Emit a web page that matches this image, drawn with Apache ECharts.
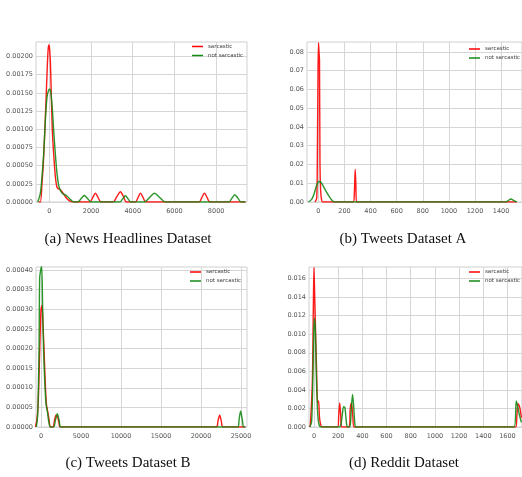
<!DOCTYPE html>
<html>
<head>
<meta charset="utf-8">
<script src="https://cdn.jsdelivr.net/npm/echarts@6/dist/echarts.min.js"></script>
<style>html,body{margin:0;padding:0;background:#fff;}#c{width:522px;height:477px;}</style>
</head>
<body>
<div id="c"></div>
<script>
// ---------- data ----------
const seriesNames = ['sarcastic', 'not sarcastic'];
const captions = ['(a) News Headlines Dataset', '(b) Tweets Dataset A', '(c) Tweets Dataset B', '(d) Reddit Dataset'];

const newsSarcastic = [[-512,0],[-432,0],[-352,0.000255],[-272,0.00062],[-192,0.00116],[-112,0.00176],[-64,0.00207],[-32,0.00216],[0,0.00214],[48,0.00194],[96,0.00144],[144,0.00098],[208,0.00066],[288,0.00035],[368,0.0002],[448,0.00018],[528,0.00017],[688,0.00011],[848,0.000045],[1008,0.00001],[1168,0],[1936,0],[2080,0.00006],[2208,0.00012],[2340,0.00006],[2480,0],[3056,0],[3230,0.00007],[3408,0.00014],[3560,0.00007],[3696,0],[4128,0],[4250,0.00006],[4368,0.00012],[4500,0.00006],[4624,0],[7184,0],[7310,0.00006],[7440,0.00012],[7570,0.00006],[7696,0],[9408,0]];
const newsNotSarcastic = [[-560,0],[-432,0.00012],[-352,0.00035],[-272,0.00066],[-192,0.00112],[-112,0.00144],[-32,0.00154],[32,0.00155],[80,0.00148],[144,0.00128],[208,0.00098],[288,0.00066],[368,0.00039],[448,0.00023],[528,0.00016],[656,0.00011],[816,0.00009],[976,0.000045],[1168,0],[1360,0],[1520,0.000045],[1680,0.00009],[1840,0.000045],[2000,0],[3376,0],[3510,0.00004],[3648,0.000085],[3780,0.00004],[3920,0],[4560,0],[4800,0.00006],[5040,0.00012],[5300,0.00006],[5568,0],[8608,0],[8750,0.00005],[8896,0.0001],[9050,0.00005],[9200,0],[9408,0]];

const tweetsASarcastic = [[-25,0],[-12.5,0.002],[-7.5,0.026],[-2.5,0.07],[1.25,0.0848],[5,0.08],[8.75,0.0755],[12.5,0.0197],[17.5,0.006],[25,0.001],[32.5,0],[267.5,0],[275,0.0037],[282.5,0.0174],[287.5,0.009],[292.5,0],[1520,0]];
const tweetsANotSarcastic = [[-75,0],[-50,0.0015],[-32.5,0.0044],[-12.5,0.009],[5,0.0109],[17.5,0.0107],[37.5,0.0085],[62.5,0.0053],[87.5,0.0025],[107.5,0.0007],[125,0],[1437.5,0],[1455,0.0008],[1475,0.0016],[1495,0.0009],[1520,0]];

const tweetsBSarcastic = [[-708,0],[-500,0.00002],[-333,0.00007],[-167,0.00019],[0,0.0003],[125,0.00031],[250,0.00026],[375,0.0002],[500,0.00013],[667,0.00006],[833,0.00004],[1000,0.00002],[1167,0],[1500,0],[1700,0.000018],[1875,0.00003],[2083,0.000025],[2250,0.00001],[2417,0],[21917,0],[22120,0.000015],[22333,0.00003],[22540,0.000015],[22750,0],[25540,0]];
const tweetsBNotSarcastic = [[-583,0],[-417,0.00003],[-250,0.00019],[-167,0.00038],[-42,0.0004],[83,0.00041],[208,0.0003],[333,0.00019],[458,0.00012],[625,0.00006],[792,0.00004],[958,0.000015],[1167,0],[1583,0],[1800,0.000017],[2042,0.000034],[2270,0.000017],[2500,0],[24583,0],[24770,0.00002],[24958,0.00004],[25150,0.00002],[25333,0],[25540,0]];

const redditSarcastic = [[-35,0],[-30,0.0002],[-13.6,0.0048],[-5.5,0.0125],[0,0.0172],[5.5,0.0145],[13.6,0.0102],[21.8,0.0061],[30,0.0026],[38,0.0028],[46,0.001],[57,0.0002],[68,0],[196,0],[205,0.0013],[213,0.0026],[221,0.0013],[229,0],[291,0],[300,0.002],[310,0.0026],[321,0.0012],[332,0],[1668,0],[1678,0.0013],[1687,0.0025],[1700,0.0022],[1715,0.001]];
const redditNotSarcastic = [[-35,0],[-19,0.0006],[-8,0.006],[2.7,0.0117],[11,0.0105],[19,0.006],[27,0.0025],[35,0.0008],[46,0.0001],[60,0],[210,0],[232,0.0011],[245,0.0022],[256,0.0021],[270,0.0003],[281,0],[297,0],[308,0.0018],[319,0.0035],[327,0.0025],[338,0.0004],[346,0],[1654,0],[1673,0.0028],[1695,0.0015],[1715,0.0005]];

const xTicksA = [0, 2000, 4000, 6000, 8000];
const xTicksB = [0, 200, 400, 600, 800, 1000, 1200, 1400];
const xTicksC = [0, 5000, 10000, 15000, 20000, 25000];
const xTicksD = [0, 200, 400, 600, 800, 1000, 1200, 1400, 1600];
const yTicksA = [0, 0.00025, 0.0005, 0.00075, 0.001, 0.00125, 0.0015, 0.00175, 0.002];
const yTicksB = [0, 0.01, 0.02, 0.03, 0.04, 0.05, 0.06, 0.07, 0.08];
const yTicksC = [0, 0.00005, 0.0001, 0.00015, 0.0002, 0.00025, 0.0003, 0.00035, 0.0004];
const yTicksD = [0, 0.002, 0.004, 0.006, 0.008, 0.01, 0.012, 0.014, 0.016];

// ---------- layout ----------
const panels = [
  {grid:{left:36, top:42, right:275, bottom:275}, x:[-640, 9480, xTicksA], y:[0, 0.0022, yTicksA, 5], s:[newsSarcastic, newsNotSarcastic], legend:{left:192, top:43.5}, cap:[128, 239]},
  {grid:{left:307, top:42, right:-4, bottom:275}, x:[-87, 1560, xTicksB], y:[0, 0.0853, yTicksB, 2], s:[tweetsASarcastic, tweetsANotSarcastic], legend:{left:469, top:46}, cap:[403, 239]},
  {grid:{left:36, top:267, right:275, bottom:50}, x:[-625, 25750, xTicksC], y:[0, 0.000408, yTicksC, 5], s:[tweetsBSarcastic, tweetsBNotSarcastic], legend:{left:190, top:269}, cap:[128, 463]},
  {grid:{left:309, top:267, right:-3, bottom:50}, x:[-41, 1720, xTicksD], y:[0, 0.01725, yTicksD, 3], s:[redditSarcastic, redditNotSarcastic], legend:{left:469, top:269}, cap:[404, 463]}
];
const colors = ['#ff0000', '#138a13'];
const labelStyle = {fontSize: 6.5, color: '#555', fontFamily: 'DejaVu Sans'};

const option = {
  animation: false,
  backgroundColor: '#fff',
  grid: [], xAxis: [], yAxis: [], series: [], legend: [], graphic: []
};
panels.forEach((p, i) => {
  option.grid.push(Object.assign({show: true, borderColor: '#cfcfcf', borderWidth: 1, containLabel: false}, p.grid));
  option.xAxis.push({
    type: 'value', gridIndex: i, min: p.x[0], max: p.x[1],
    axisLine: {show: false}, axisTick: {show: false, customValues: p.x[2]},
    axisLabel: Object.assign({customValues: p.x[2], margin: 6, formatter: v => String(v)}, labelStyle),
    splitLine: {show: true, lineStyle: {color: '#d6d6d6', width: 1}}
  });
  const dec = p.y[3];
  option.yAxis.push({
    type: 'value', gridIndex: i, min: p.y[0], max: p.y[1],
    axisLine: {show: false}, axisTick: {show: false, customValues: p.y[2]},
    axisLabel: Object.assign({customValues: p.y[2], margin: 3, formatter: v => v.toFixed(dec)}, labelStyle),
    splitLine: {show: true, lineStyle: {color: '#d6d6d6', width: 1}}
  });
  p.s.forEach((d, k) => {
    option.series.push({
      type: 'line', name: seriesNames[k], xAxisIndex: i, yAxisIndex: i,
      data: d, showSymbol: false, symbol: 'none', smooth: 0.3,
      lineStyle: {color: colors[k], width: 1.4, opacity: 0.9},
      itemStyle: {color: colors[k]}, clip: true, z: 2 + k
    });
  });
  option.legend.push({
    data: seriesNames, left: p.legend.left, top: p.legend.top, orient: 'vertical',
    padding: 0, itemGap: 3, itemWidth: 11, itemHeight: 1.5, icon: 'rect',
    textStyle: {fontSize: 5.5, color: '#444', fontFamily: 'DejaVu Sans', padding: [0,0,0,0]},
    selectedMode: false
  });
  option.graphic.push({
    type: 'text', x: p.cap[0], y: p.cap[1],
    style: {text: captions[i], fontSize: 15, fontFamily: '"Liberation Serif", "Times New Roman", serif', fill: '#111', align: 'center', verticalAlign: 'middle'}
  });
});

const chart = echarts.init(document.getElementById('c'), null, {renderer: 'canvas'});
chart.setOption(option);
</script>
</body>
</html>
